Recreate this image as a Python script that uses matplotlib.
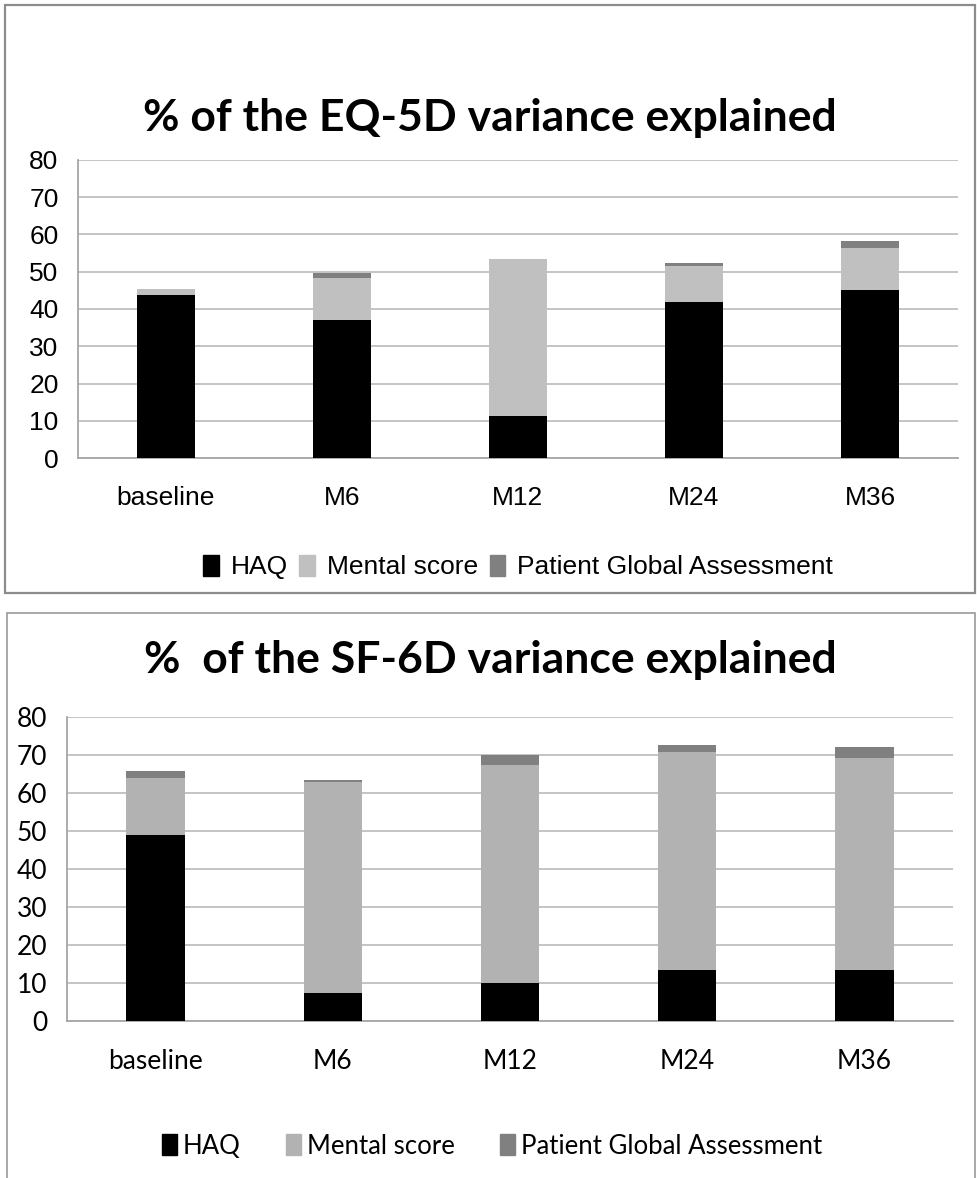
import matplotlib
matplotlib.use('Agg')
import matplotlib.pyplot as plt
from matplotlib.patches import Rectangle, Patch
import numpy as np

# Data
timepoints = ['baseline', 'M6', 'M12', 'M24', 'M36']
series_names = ['HAQ', 'Mental score', 'Patient Global Assessment']

eq5d_haq = [43.8, 37.0, 11.4, 42.0, 45.2]
eq5d_mental = [1.6, 11.4, 42.0, 9.6, 11.3]
eq5d_pga = [0.0, 1.2, 0.0, 0.7, 1.8]

sf6d_haq = [48.9, 7.4, 10.0, 13.3, 13.3]
sf6d_mental = [15.0, 55.5, 57.3, 57.5, 55.9]
sf6d_pga = [1.9, 0.5, 2.6, 1.8, 2.8]

W, H = 977, 1178
fig = plt.figure(figsize=(W / 100, H / 100), dpi=100)


def fx(px):
    return px / W


def fy(py):
    return 1 - py / H


# Panel borders
fig.patches.append(Rectangle((fx(5), fy(593)), fx(970), 588 / H, transform=fig.transFigure,
                             fill=False, edgecolor='#8c8c8c', linewidth=1.6))
fig.patches.append(Rectangle((fx(7), fy(1190)), fx(968), 577 / H, transform=fig.transFigure,
                             fill=False, edgecolor='#9a9a9a', linewidth=1.2))


def draw_panel(ax, haq, mental, pga, colors, tick_font, tick_size, ypad, xpad):
    x = np.arange(len(timepoints))
    w = 0.33
    ax.bar(x, haq, w, color=colors[0], zorder=3)
    ax.bar(x, mental, w, bottom=haq, color=colors[1], zorder=3)
    bottom2 = [a + b for a, b in zip(haq, mental)]
    ax.bar(x, pga, w, bottom=bottom2, color=colors[2], zorder=3)
    ax.set_xlim(-0.5, len(timepoints) - 0.5)
    ax.set_ylim(0, 80)
    ax.set_yticks(range(0, 81, 10))
    ax.set_xticks(x)
    ax.set_xticklabels(timepoints)
    ax.yaxis.grid(True, color='#bfbfbf', linewidth=1.3, zorder=0)
    ax.set_axisbelow(True)
    for s in ['top', 'right']:
        ax.spines[s].set_visible(False)
    for s in ['left', 'bottom']:
        ax.spines[s].set_color('#a6a6a6')
        ax.spines[s].set_linewidth(1.3)
    ax.tick_params(length=0)
    ax.tick_params(axis='y', pad=ypad)
    ax.tick_params(axis='x', pad=xpad)
    for lab in ax.get_xticklabels() + ax.get_yticklabels():
        lab.set_fontfamily(tick_font)
        lab.set_fontsize(tick_size)
        lab.set_color('black')


# Top panel: EQ-5D
ax1 = fig.add_axes([fx(78), fy(458), fx(880), 298 / H])
top_colors = ['#000000', '#c0c0c0', '#808080']
draw_panel(ax1, eq5d_haq, eq5d_mental, eq5d_pga, top_colors, 'Liberation Sans', 19, 14, 20)
fig.text(fx(490), fy(118), '% of the EQ-5D variance explained', ha='center', va='center',
         fontsize=32, fontweight='bold', family='Lato')
handles1 = [Patch(color=c) for c in top_colors]
fig.legend(handles1, series_names, loc='center', bbox_to_anchor=(fx(518), fy(567)), ncol=3,
           frameon=False, prop={'family': 'Liberation Sans', 'size': 19},
           handlelength=0.58, handleheight=0.85, handletextpad=0.45, columnspacing=0.45,
           borderpad=0, borderaxespad=0)

# Bottom panel: SF-6D
ax2 = fig.add_axes([fx(67), fy(1021), fx(886), 304 / H])
bot_colors = ['#000000', '#b2b2b2', '#808080']
draw_panel(ax2, sf6d_haq, sf6d_mental, sf6d_pga, bot_colors, 'Lato', 19, 14, 20)
fig.text(fx(490), fy(660), '%  of the SF-6D variance explained', ha='center', va='center',
         fontsize=32, fontweight='bold', family='Lato')
handles2 = [Patch(color=c) for c in bot_colors]
fig.legend(handles2, series_names, loc='center', bbox_to_anchor=(fx(492), fy(1146)), ncol=3,
           frameon=False, prop={'family': 'Lato', 'size': 18.5},
           handlelength=0.58, handleheight=0.85, handletextpad=0.25, columnspacing=1.75,
           borderpad=0, borderaxespad=0)

fig.savefig('out.png', dpi=100)
